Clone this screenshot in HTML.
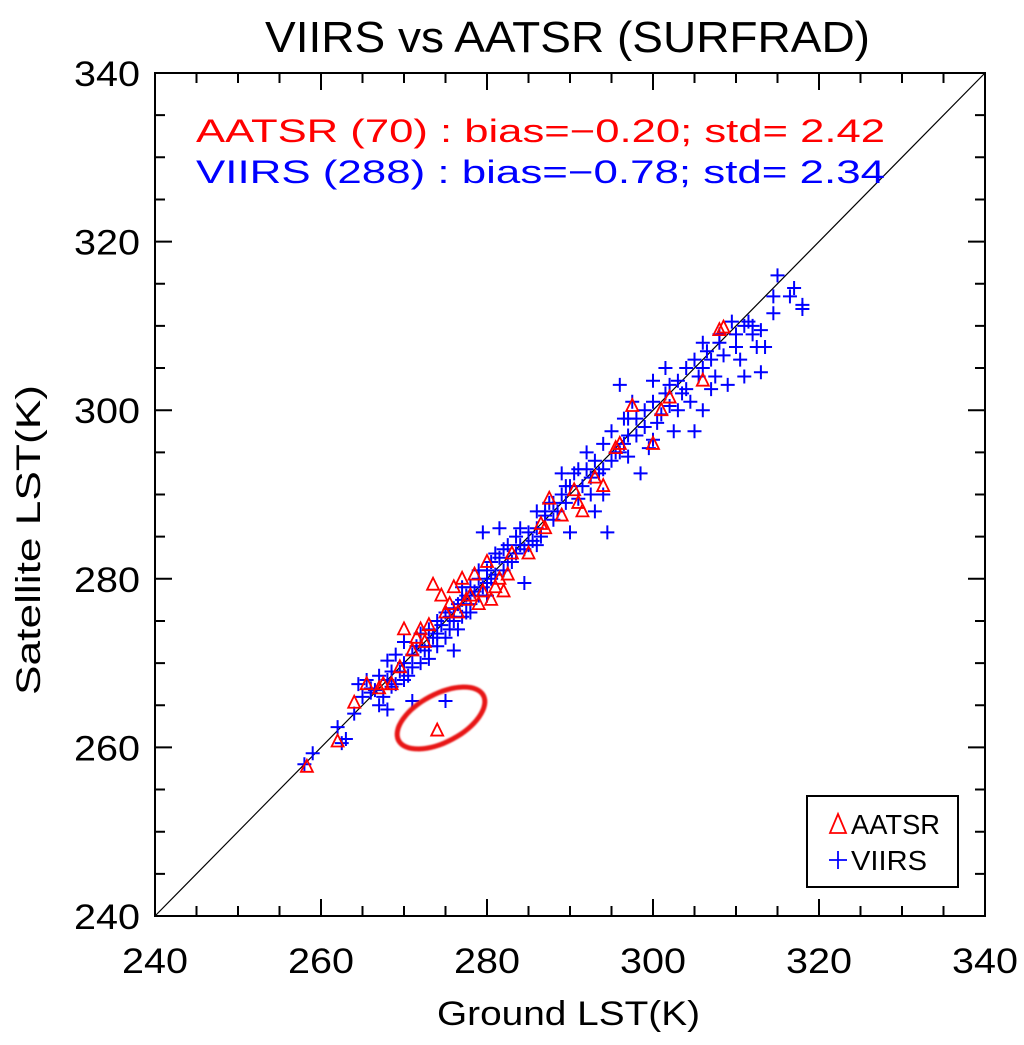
<!DOCTYPE html>
<html><head><meta charset="utf-8"><style>
html,body{margin:0;padding:0;background:#fff;}
svg{display:block;font-family:"Liberation Sans",sans-serif;}
</style></head><body>
<svg id="chart" width="1024" height="1045" viewBox="0 0 1024 1045" xmlns="http://www.w3.org/2000/svg">
<defs><filter id="blur" x="-20%" y="-20%" width="140%" height="140%"><feGaussianBlur stdDeviation="0.9"/></filter></defs>
<text x="265" y="52" font-size="44" textLength="605" lengthAdjust="spacingAndGlyphs" fill="#000">VIIRS vs AATSR (SURFRAD)</text>
<g id="plot"></g>
<text x="196" y="142" font-size="32" textLength="689" lengthAdjust="spacingAndGlyphs" fill="#ff0000">AATSR (70) : bias=−0.20; std= 2.42</text>
<text x="196" y="183" font-size="32" textLength="689" lengthAdjust="spacingAndGlyphs" fill="#0000ff">VIIRS (288) : bias=−0.78; std= 2.34</text>
<text x="437" y="1025" font-size="34" textLength="263" lengthAdjust="spacingAndGlyphs">Ground LST(K)</text>
<text transform="translate(40,695) rotate(-90)" font-size="34" textLength="310" lengthAdjust="spacingAndGlyphs">Satellite LST(K)</text>
<ellipse cx="441" cy="718" rx="48" ry="24" transform="rotate(-28 441 718)" fill="none" stroke="#e81818" stroke-width="5" filter="url(#blur)"/>
<g>
<rect x="807" y="796" width="151" height="91" fill="#fff" stroke="#000" stroke-width="2"/>
<polygon points="838,814 830,833 846,833" fill="none" stroke="#ff0000" stroke-width="1.8"/>
<text x="851" y="834" font-size="28" textLength="89" lengthAdjust="spacingAndGlyphs">AATSR</text>
<path d="M829,860 H847 M838,851 V869" stroke="#0000ff" stroke-width="1.8"/>
<text x="851" y="870" font-size="28" textLength="76" lengthAdjust="spacingAndGlyphs">VIIRS</text>
</g>
</svg>
<script>
const xTicks=[240,260,280,300,320,340];
const yTicks=[240,260,280,300,320,340];
const viirs=[[258,258],[259,259.3],[262,262.4],[263,261],[264,264],[264.5,267.5],[265,266],[265.5,268],[266,267],[266.5,266.8],[267,265],[267.5,266],[268,268],[268,270.3],[268.5,267.2],[269,271],[269.5,269],[270,270],[270,272.5],[270.5,268.5],[271,271],[271.5,272],[272,270],[272,273.5],[272.5,271.5],[273,274],[273,272],[273.5,273],[274,275],[274,273.5],[274.5,274.5],[275,276],[275,265.5],[275.5,274],[276,276.5],[276,275],[276.5,277],[277,277.5],[277,275.5],[277.5,278],[278,279],[278,277],[278.5,278.5],[279,280],[279,278],[279.5,279],[280,281],[280,279.5],[280.5,282],[281,280.5],[281.5,282.5],[282,281],[282,283.5],[282.5,284],[283,282],[283.5,285],[284,284],[284.5,283.5],[285,285.5],[285.5,284.5],[286,286],[286,288],[286.5,285],[287,287.5],[287.5,289],[288,287],[288.5,288],[289,290],[289,292.5],[289.5,289],[290,291],[290.5,292.5],[291,289.5],[291.5,291],[292,293],[292,295],[292.5,292],[293,294],[293.5,292.5],[294,296],[294.5,285.5],[294,290],[295,297.5],[295.5,295],[296,303],[296.5,296],[297,299],[297,294.5],[297.5,301],[298,297],[298.5,292.5],[299,300],[299,298],[299.5,295.5],[300,303.5],[300,296.5],[300.5,298.5],[301,299.5],[301.5,302],[301.5,305],[302,300.5],[302.5,297.5],[303,303.5],[303,300],[303.5,302],[304,302.5],[304.5,301],[305,306],[305,297.5],[305.5,304],[306,305],[306.5,307],[307,306],[307,302.5],[307.5,304],[308,309],[308.5,306.5],[309,303],[309.5,310.5],[310,307.5],[310.5,306],[311,310],[311,304],[311.5,310.5],[312,309],[312.5,307.5],[313,309.5],[313.5,307.5],[314.5,313.5],[315,316],[316.5,313.5],[317,314.5],[318,312.5],[318,312],[314.5,311.5],[313,304.5],[262.5,260.5],[268,264.5],[271,265.5],[279.5,285.5],[276,271.5],[281.5,286],[284.5,279.5],[290,285.5],[293,288],[296.5,299],[306,300],[266,266.5],[267,268.5],[268.5,269],[269,267.5],[270,268],[271,269.5],[272,272],[273,270.5],[274,272],[275,273],[275.5,275.5],[276.5,274],[277,279],[277.5,276],[278,276],[279,281],[280,278],[280.5,280],[281,283],[282.5,282],[283.5,283],[284,286],[285,284],[286,284],[287,288],[288,289],[289.5,291],[291,293],[292.5,290],[294,293],[295,294],[296,295],[297,297],[298,299],[300,301],[302,303],[304,305],[306,308],[308,308],[310,309],[312,310]];
const aatsr=[[258.3,257.7],[262,260.7],[264,265.3],[265.5,267.5],[267,267],[268.5,267.5],[270,274],[271,271.5],[272,274],[272.5,272.5],[273,274.5],[273.5,279.3],[274,262],[274.5,278],[275,276],[275.5,277],[276,279],[276.5,276],[277,280],[277.5,277.5],[278,278],[279,277],[279.5,278.5],[280,282],[280.5,277.5],[281,279],[282,278.5],[282.5,280.5],[283,283],[285,283],[286.5,286.5],[287,286],[287.5,289.5],[289,287.5],[290.5,290.5],[291,289],[291.5,288],[293,292],[294,291],[295.5,295.5],[296,296],[297.5,300.5],[300,296],[301,300],[302,301.5],[306,303.5],[308,309.5],[308.5,309.8],[269.5,269.5],[271.5,273],[278.5,280.5],[267.5,267.5],[281.5,280]];
const X0=155,X1=985,Y0=916,Y1=73;
function sx(v){return X0+(v-240)/100*(X1-X0);}
function sy(v){return Y0-(v-240)/100*(Y0-Y1);}
const NS='http://www.w3.org/2000/svg';
const g=document.getElementById('plot');
function mk(tag,attrs){const e=document.createElementNS(NS,tag);for(const k in attrs)e.setAttribute(k,attrs[k]);g.appendChild(e);return e;}
let e=mk('rect',{x:X0,y:Y1,width:X1-X0,height:Y0-Y1,fill:'none',stroke:'#000','stroke-width':2});


e=mk('line',{x1:sx(240),y1:sy(240),x2:sx(340),y2:sy(340),stroke:'#000','stroke-width':1.2});


for(let v=240;v<=340;v+=5){
  const major=(v%20===0),L=major?17:10;
  const x=sx(v),y=sy(v);
  e=mk('path',{d:`M${x},${Y0}v${-L}M${x},${Y1}v${L}M${X0},${y}h${L}M${X1},${y}h${-L}`,stroke:'#000','stroke-width':2});
  
  
}
xTicks.forEach(v=>{
  e=mk('text',{x:sx(v),y:973,'font-size':35,'text-anchor':'middle',textLength:66,lengthAdjust:'spacingAndGlyphs'});
  e.textContent=v;
  
  
});
yTicks.forEach(v=>{
  e=mk('text',{x:140,y:sy(v)+13,'font-size':35,'text-anchor':'end',textLength:66,lengthAdjust:'spacingAndGlyphs'});
  e.textContent=v;
  
  
});
viirs.forEach(p=>{
  const x=sx(p[0]),y=sy(p[1]);
  e=mk('path',{d:`M${x-7},${y}h14M${x},${y-7}v14`,stroke:'#0000ff','stroke-width':2});
  
  
});
aatsr.forEach(p=>{
  const x=sx(p[0]),y=sy(p[1]);
  e=mk('polygon',{points:`${x},${y-7} ${x-6},${y+5} ${x+6},${y+5}`,fill:'none',stroke:'#ff0000','stroke-width':1.8});
  
  
});
</script>
</body></html>
